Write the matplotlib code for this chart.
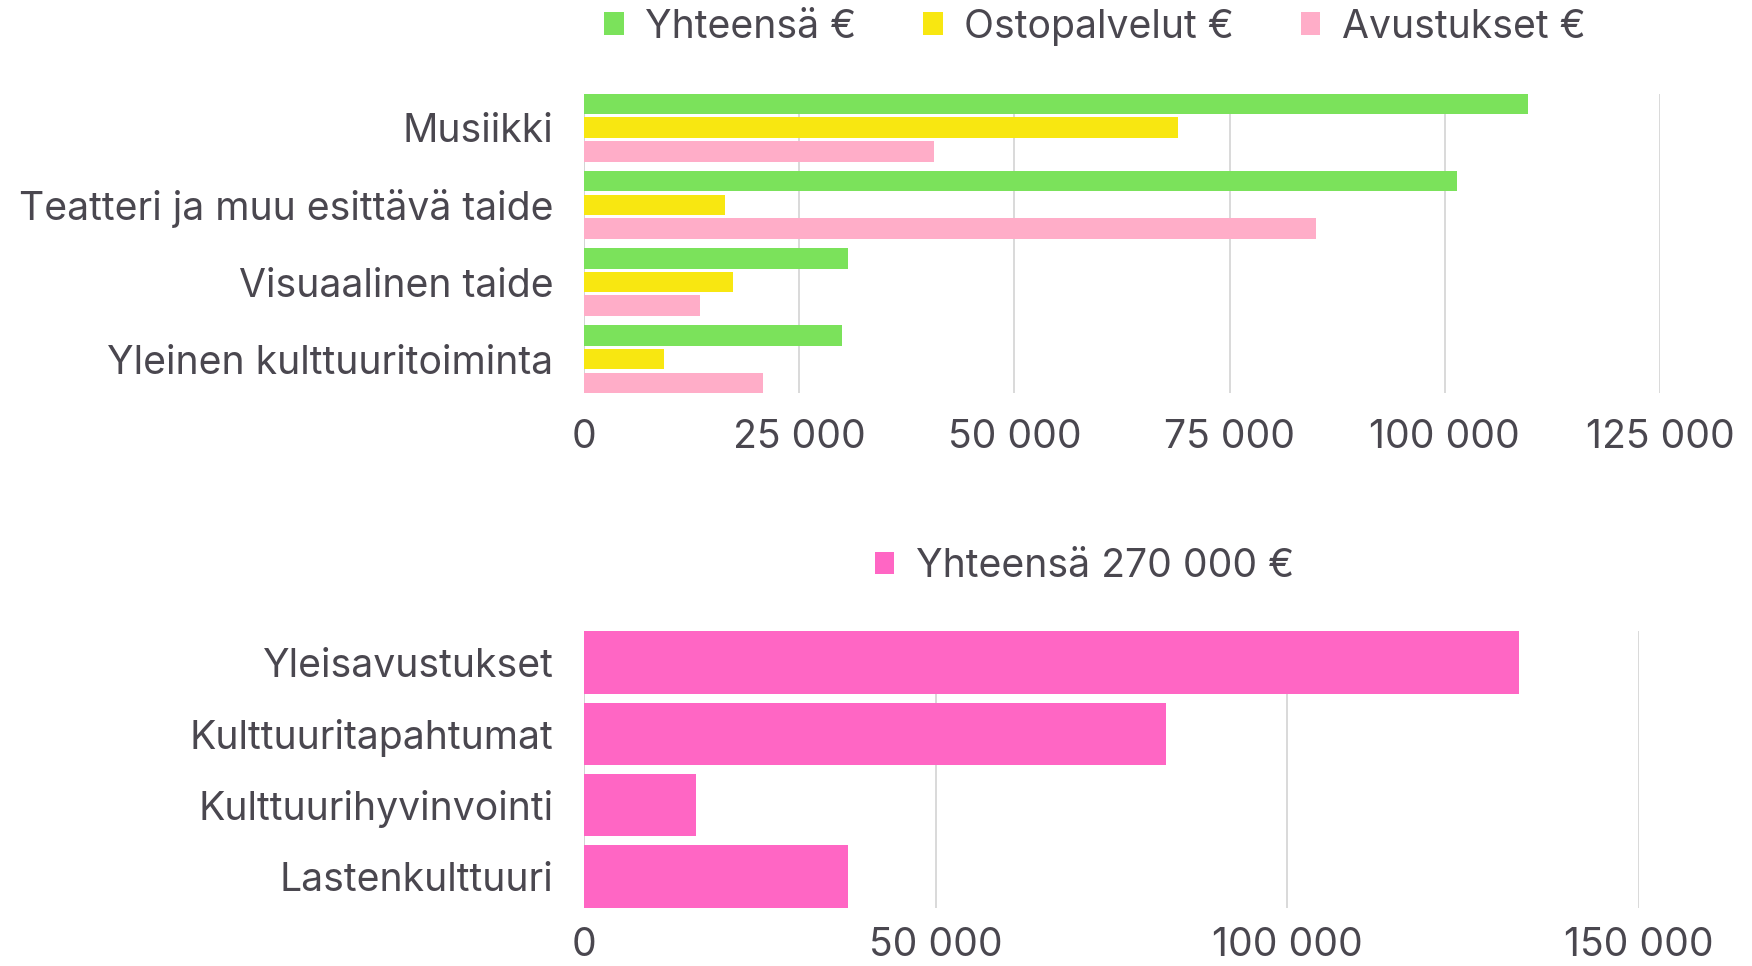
import numpy as np
import matplotlib.pyplot as plt
from matplotlib.ticker import FuncFormatter

# Top chart data
categories = ["Musiikki", "Teatteri ja muu esittävä taide", "Visuaalinen taide", "Yleinen kulttuuritoiminta"]
yhteensa = [109700, 101400, 30700, 30000]
ostopalvelut = [69000, 16400, 17300, 9250]
avustukset = [40700, 85000, 13500, 20750]
series_names = ["Yhteensä €", "Ostopalvelut €", "Avustukset €"]
top_ticks = [0, 25000, 50000, 75000, 100000, 125000]

# Bottom chart data
categories2 = ["Yleisavustukset", "Kulttuuritapahtumat", "Kulttuurihyvinvointi", "Lastenkulttuuri"]
values2 = [133000, 82700, 16000, 37500]
series2_name = "Yhteensä 270 000 €"
bottom_ticks = [0, 50000, 100000, 150000]

colors = ["#7be25b", "#f8e711", "#ffadc8"]
pink2 = "#ff66c4"
text_col = "#4a474f"
grid_col = "#d3d3d3"

fs = 28.2
plt.rcParams['font.family'] = ['Inter', 'DejaVu Sans']
plt.rcParams['font.size'] = fs

fmt = FuncFormatter(lambda v, p: f"{int(v):,}".replace(",", " "))

fig = plt.figure(figsize=(17.52, 9.66), dpi=100)

# ---- top chart ----
ax1 = fig.add_axes([0.3333, 0.5932, 0.6142, 0.3095])
y = np.arange(len(categories))
step = 0.31
h = 0.27
for i, (vals, c, name) in enumerate(zip([yhteensa, ostopalvelut, avustukset], colors, series_names)):
    ax1.barh(y + (i - 1) * step, vals, height=h, color=c, label=name, zorder=3)
ax1.set_yticks(y)
ax1.set_yticklabels(categories)
ax1.set_ylim(len(categories) - 1 + 0.44, -0.44)
ax1.set_xlim(0, 125000)
ax1.set_xticks(top_ticks)
ax1.xaxis.set_major_formatter(fmt)

# ---- bottom chart ----
ax2 = fig.add_axes([0.3333, 0.06, 0.6022, 0.2868])
y2 = np.arange(len(categories2))
ax2.barh(y2, values2, height=0.875, color=pink2, label=series2_name, zorder=3)
ax2.set_yticks(y2)
ax2.set_yticklabels(categories2)
ax2.set_ylim(len(categories2) - 1 + 0.44, -0.44)
ax2.set_xlim(0, 150000)
ax2.set_xticks(bottom_ticks)
ax2.xaxis.set_major_formatter(fmt)

for ax in (ax1, ax2):
    for s in ax.spines.values():
        s.set_visible(False)
    ax.grid(axis='x', color=grid_col, linewidth=1.2, zorder=0)
    ax.axvline(0, color=grid_col, linewidth=1.2, zorder=0)
    ax.tick_params(axis='both', length=0, colors=text_col, labelsize=fs)
    ax.tick_params(axis='y', pad=22)
ax1.tick_params(axis='x', pad=19)
ax2.tick_params(axis='x', pad=14)

leg_kw = dict(frameon=False, handlelength=0.5, handleheight=0.5, handletextpad=0.55,
              columnspacing=1.7, fontsize=fs, labelcolor=text_col)
h1, l1 = ax1.get_legend_handles_labels()
fig.legend(h1, l1, loc='center', bbox_to_anchor=(0.625, 0.972), ncol=3, **leg_kw)
h2, l2 = ax2.get_legend_handles_labels()
fig.legend(h2, l2, loc='center', bbox_to_anchor=(0.619, 0.414), ncol=1, **leg_kw)

fig.savefig("out.png", dpi=100, facecolor="white")
